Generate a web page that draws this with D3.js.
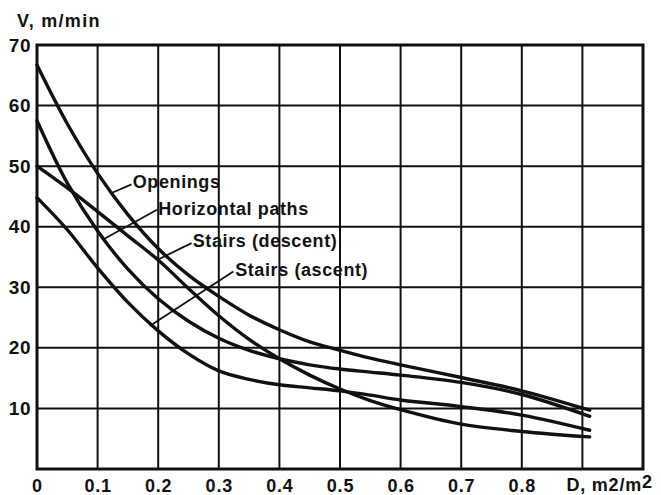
<!DOCTYPE html>
<html>
<head>
<meta charset="utf-8">
<script src="https://cdn.jsdelivr.net/npm/d3@7/dist/d3.min.js"></script>
<style>
  html, body { margin: 0; padding: 0; background: #fff; }
  svg { display: block; }
  text { font-family: "Liberation Sans", Arial, Helvetica, sans-serif; font-weight: bold; fill: #111; }
</style>
</head>
<body>
<svg id="chart" width="661" height="495"></svg>
<script>
// Pedestrian flow speed V (m/min) against flow density D (m2/m2)
const density = [0, 0.05, 0.1, 0.15, 0.2, 0.25, 0.3, 0.35, 0.4, 0.45, 0.5, 0.55, 0.6, 0.7, 0.8, 0.912];
const openings   = [66.7, 57.0, 48.8, 42.0, 36.4, 32.0, 28.5, 25.4, 23.0, 21.0, 19.6, 18.3, 17.2, 15.1, 12.9, 9.7];
const horizontal = [57.5, 47.2, 39.3, 33.0, 28.1, 24.4, 21.6, 19.6, 18.2, 17.2, 16.5, 16.0, 15.5, 14.3, 12.3, 8.7];
const descent    = [50.0, 46.4, 42.5, 38.5, 34.5, 29.8, 25.3, 21.4, 18.2, 15.5, 13.2, 11.3, 9.8, 7.4, 6.2, 5.3];
const ascent     = [44.8, 39.5, 33.2, 27.5, 22.8, 19.0, 16.2, 14.8, 13.9, 13.4, 12.9, 12.2, 11.4, 10.3, 8.9, 6.4];

const seriesValues = [openings, horizontal, descent, ascent];

const xGrid = [0.1, 0.2, 0.3, 0.4, 0.5, 0.6, 0.7, 0.8, 0.9];
const xTickLabels = [0, 0.1, 0.2, 0.3, 0.4, 0.5, 0.6, 0.7, 0.8];
const yGrid = [10, 20, 30, 40, 50, 60];
const yTickLabels = [10, 20, 30, 40, 50, 60, 70];

// label text anchor (D, V) and the point on its curve the leader touches
const labelText   = ["Openings", "Horizontal paths", "Stairs (descent)", "Stairs (ascent)"];
const labelAt     = [[0.158, 46.4], [0.200, 41.9], [0.257, 36.6], [0.327, 31.9]];
const leaderFrom  = [[0.156, 47.0], [0.198, 42.8], [0.255, 37.3], [0.324, 32.6]];
const leaderTo    = [[0.124, 45.6], [0.109, 37.9], [0.198, 34.5], [0.186, 23.6]];

const svg = d3.select("#chart");
const plotLeft = 37, plotRight = 643, plotTop = 45, plotBottom = 469;

const x = d3.scaleLinear().domain([0, 1]).range([plotLeft, plotRight]);
const y = d3.scaleLinear().domain([0, 70]).range([plotBottom, plotTop]);

// grid
const grid = svg.append("g").attr("stroke", "#111").attr("stroke-width", 2);
grid.selectAll("line.v").data(xGrid).join("line").attr("class", "v")
  .attr("x1", d => x(d)).attr("x2", d => x(d))
  .attr("y1", y(70)).attr("y2", y(0));
grid.selectAll("line.h").data(yGrid).join("line").attr("class", "h")
  .attr("x1", x(0)).attr("x2", x(1))
  .attr("y1", d => y(d)).attr("y2", d => y(d));

// frame
svg.append("rect")
  .attr("x", x(0)).attr("y", y(70))
  .attr("width", x(1) - x(0)).attr("height", y(0) - y(70))
  .attr("fill", "none").attr("stroke", "#111").attr("stroke-width", 3);

// tick labels via d3 axes (no domain / tick lines)
const xAxis = d3.axisBottom(x).tickValues(xTickLabels).tickSize(0).tickPadding(10)
  .tickFormat(d => d === 0 ? "0" : d3.format(".1f")(d));
const gx = svg.append("g").attr("transform", `translate(0,${plotBottom})`).call(xAxis);
gx.select(".domain").remove();
gx.selectAll("text").attr("font-size", 18).attr("fill", "#111").attr("letter-spacing", 0.8);
gx.attr("font-family", null).attr("font-size", null);

const yAxis = d3.axisLeft(y).tickValues(yTickLabels).tickSize(0).tickPadding(6);
const gy = svg.append("g").attr("transform", `translate(${plotLeft},0)`).call(yAxis);
gy.select(".domain").remove();
gy.selectAll("text").attr("font-size", 19).attr("fill", "#111").attr("letter-spacing", 0.5);
gy.attr("font-family", null).attr("font-size", null);

// axis titles
svg.append("text").attr("x", 17).attr("y", 27).attr("font-size", 18)
  .attr("letter-spacing", 1.3).text("V, m/min");
const dt = svg.append("text").attr("x", x(0.9) - 16).attr("y", 491).attr("font-size", 18)
  .attr("letter-spacing", 0.8);
dt.append("tspan").text("D, m2/m");
dt.append("tspan").attr("dy", -3).text("2");

// curves
const line = d3.line()
  .x((d, i) => x(density[i]))
  .y(d => y(d))
  .curve(d3.curveCatmullRom.alpha(0.5));

svg.append("g").selectAll("path").data(seriesValues).join("path")
  .attr("d", d => line(d))
  .attr("fill", "none").attr("stroke", "#111").attr("stroke-width", 3.4)
  .attr("stroke-linecap", "round");

// curve labels with leaders
const labels = svg.append("g");
labelText.forEach((t, i) => {
  labels.append("line")
    .attr("x1", x(leaderFrom[i][0])).attr("y1", y(leaderFrom[i][1]))
    .attr("x2", x(leaderTo[i][0])).attr("y2", y(leaderTo[i][1]))
    .attr("stroke", "#111").attr("stroke-width", 1.8);
  labels.append("text")
    .attr("x", x(labelAt[i][0])).attr("y", y(labelAt[i][1]))
    .attr("font-size", 18).attr("letter-spacing", 0.6)
    .text(t);
});
</script>
</body>
</html>
